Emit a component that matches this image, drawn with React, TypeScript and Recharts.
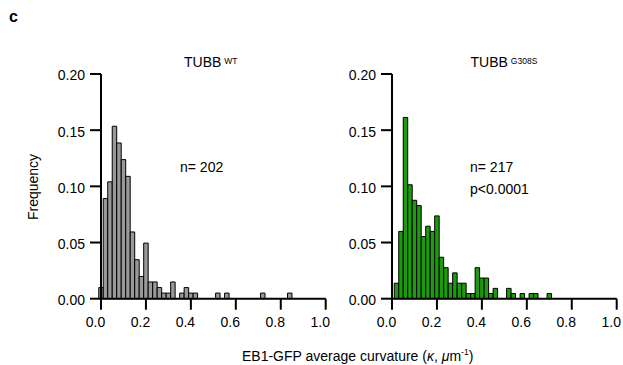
import React from "react";
import { BarChart, Bar, XAxis, YAxis } from "recharts";

// Bin centres (EB1-GFP average curvature, µm^-1)
const wtBins = [0, 0.02, 0.04, 0.06, 0.08, 0.1, 0.12, 0.14, 0.16, 0.18, 0.2, 0.22, 0.24, 0.26, 0.28, 0.3, 0.32, 0.34, 0.36, 0.38, 0.4, 0.42, 0.44, 0.46, 0.48, 0.5, 0.52, 0.54, 0.56, 0.58, 0.6, 0.62, 0.64, 0.66, 0.68, 0.7, 0.72, 0.74, 0.76, 0.78, 0.8, 0.82, 0.84];
const wtFreq = [0.0099, 0.0891, 0.104, 0.1535, 0.1386, 0.1238, 0.1089, 0.0594, 0.0347, 0.0198, 0.0495, 0.0149, 0.0149, 0.0099, 0.005, 0.005, 0.0149, 0, 0.005, 0.0099, 0.005, 0.005, 0, 0, 0, 0, 0.005, 0, 0.005, 0, 0, 0, 0, 0, 0, 0, 0.005, 0, 0, 0, 0, 0, 0.005];

const mutBins = [0.02, 0.04, 0.06, 0.08, 0.1, 0.12, 0.14, 0.16, 0.18, 0.2, 0.22, 0.24, 0.26, 0.28, 0.3, 0.32, 0.34, 0.36, 0.38, 0.4, 0.42, 0.44, 0.46, 0.48, 0.5, 0.52, 0.54, 0.56, 0.58, 0.6, 0.62, 0.64, 0.66, 0.68, 0.7];
const mutFreq = [0.0138, 0.0599, 0.1613, 0.1014, 0.0876, 0.0829, 0.0553, 0.0645, 0.0599, 0.0737, 0.0369, 0.0276, 0.0138, 0.023, 0.0138, 0.0138, 0.0046, 0.0046, 0.0276, 0.0184, 0.0184, 0.0046, 0.0092, 0, 0, 0.0092, 0.0046, 0, 0.0046, 0, 0.0046, 0.0046, 0, 0, 0.0046];

const xTicks = [0, 0.2, 0.4, 0.6, 0.8, 1.0];
const yTicks = [0, 0.05, 0.1, 0.15, 0.2];

const wtData = wtBins.map((x, i) => ({ x, f: wtFreq[i] }));
const mutData = mutBins.map((x, i) => ({ x, f: mutFreq[i] }));

const FONT = "'Liberation Sans', Arial, Helvetica, sans-serif";
const xTickStyle = { fontSize: 14, fill: "#000", fontFamily: FONT, dx: -5.5 };
const yTickStyle = { fontSize: 14, fill: "#000", fontFamily: FONT, dy: 1.5 };

function Panel({ data, fill, margin }: { data: any[]; fill: string; margin: any }) {
  return (
    <BarChart width={340} height={340} data={data} margin={margin} barCategoryGap={0} barGap={0} style={{ overflow: "visible" }}>
      <XAxis
        dataKey="x"
        type="number"
        domain={[0, 1]}
        ticks={xTicks}
        interval={0}
        tickFormatter={(v: number) => v.toFixed(1)}
        tick={xTickStyle}
        tickSize={11}
        tickMargin={7}
        height={30}
        axisLine={{ stroke: "#000", strokeWidth: 2 }}
        tickLine={{ stroke: "#000", strokeWidth: 2 }}
      />
      <YAxis
        type="number"
        domain={[0, 0.2]}
        ticks={yTicks}
        interval={0}
        tickFormatter={(v: number) => v.toFixed(2)}
        tick={yTickStyle}
        tickSize={11}
        tickMargin={5}
        width={50}
        axisLine={{ stroke: "#000", strokeWidth: 2 }}
        tickLine={{ stroke: "#000", strokeWidth: 2 }}
      />
      <Bar dataKey="f" fill={fill} stroke="#000" strokeWidth={1} barSize={4.48} isAnimationActive={false} />
    </BarChart>
  );
}

export default function App() {
  return (
    <div style={{ position: "absolute", left: 0, top: 0, width: 623, height: 365, background: "#fff", overflow: "hidden" }}>
      <div style={{ position: "absolute", left: 0, top: 0 }}>
        <Panel data={wtData} fill="#999999" margin={{ top: 74, left: 51, right: 14.3, bottom: 11.3 }} />
      </div>
      <div style={{ position: "absolute", left: 290, top: 0 }}>
        <Panel data={mutData} fill="#1e9a0e" margin={{ top: 74, left: 52, right: 13.3, bottom: 11.3 }} />
      </div>
      <svg width={623} height={365} style={{ position: "absolute", left: 0, top: 0, pointerEvents: "none" }} fontFamily={FONT}>
        <text x={9} y={22} fontSize={16} fontWeight="bold">c</text>
        <text x={184} y={67} fontSize={14}>
          TUBB<tspan fontSize={8.5} dy={-3.5} dx={3}>WT</tspan>
        </text>
        <text x={470.5} y={67} fontSize={14}>
          TUBB<tspan fontSize={8.5} dy={-3.5} dx={3}>G308S</tspan>
        </text>
        <text x={180} y={171.5} fontSize={14}>n= 202</text>
        <text x={470} y={171.5} fontSize={14}>n= 217</text>
        <text x={470} y={193.5} fontSize={14}>p&lt;0.0001</text>
        <text x={0} y={0} fontSize={14} textAnchor="middle" transform="translate(38,187) rotate(-90)">Frequency</text>
        <text x={242} y={360.5} fontSize={14}>
          EB1-GFP average curvature (<tspan fontStyle="italic">κ</tspan>, <tspan fontStyle="italic">μ</tspan>m<tspan fontSize={8.5} dy={-6}>-1</tspan><tspan dy={6}>)</tspan>
        </text>
      </svg>
    </div>
  );
}
